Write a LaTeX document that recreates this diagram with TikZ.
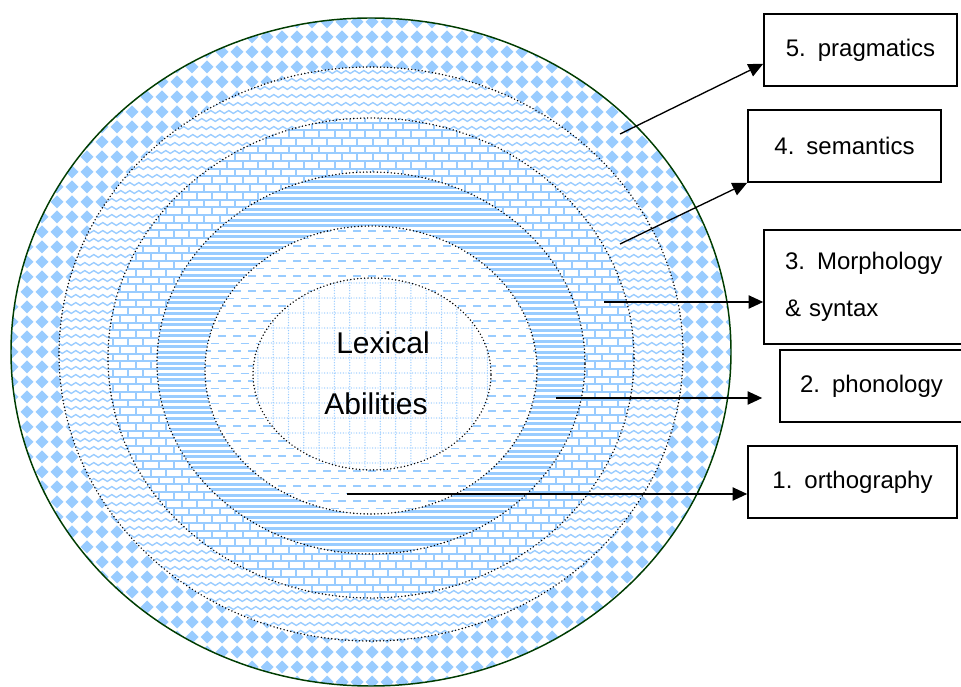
\documentclass[tikz,border=0pt]{standalone}
\usepackage{fontspec}
\setmainfont{Liberation Sans}
\usetikzlibrary{positioning, arrows.meta, calc, decorations.pathmorphing}
\definecolor{patblue}{RGB}{153,204,255}
\definecolor{rimgreen}{RGB}{0,60,0}
\tikzset{
    layer/.style={draw, fill=white, line width=1.2pt, minimum height=54pt, font=\fontsize{18}{22}\selectfont},
    ring/.style={line width=1.2pt, dash pattern=on 0pt off 2.6pt, line cap=round},
    pointer/.style={line width=1pt, -{Triangle[length=11pt, width=10pt]}},
    wave/.style={patblue, line width=1pt, decorate, decoration={snake, amplitude=1.1pt, segment length=6.75pt}},
    mortar/.style={patblue, line width=1.5pt},
    griddots/.style={patblue, line width=1.1pt, dash pattern=on 0pt off 2pt, line cap=round},
}

\begin{document}
\begin{tikzpicture}[x=0.75pt, y=0.75pt]
    \useasboundingbox (0,0) rectangle (961,686);

    % outer ring: diamonds
    \begin{scope}
        \clip (371,334) ellipse [x radius=360, y radius=334];
        \foreach \i in {0,...,48}
            \foreach \j in {0,...,45}
                \fill[patblue] (12+15*\i,4+15*\j) +(-6.5,0) -- +(0,6.5) -- +(6.5,0) -- +(0,-6.5) -- cycle;
    \end{scope}

    % waves
    \begin{scope}
        \fill[white] (371,332) ellipse [x radius=312, y radius=287];
        \clip (371,332) ellipse [x radius=312, y radius=287];
        \foreach \y in {46,54,...,622}
            \draw[wave] (55,\y) -- (690,\y);
    \end{scope}

    % bricks
    \begin{scope}
        \fill[white] (371,328) ellipse [x radius=263, y radius=240];
        \clip (371,328) ellipse [x radius=263, y radius=240];
        \foreach \y in {86,93.7,...,572}
            \draw[mortar] (105,\y) -- (640,\y);
        \foreach \x in {105,120.3,...,640} {
            \draw[mortar, dash pattern=on 5.775pt off 5.775pt] (\x,86) -- (\x,572);
            \draw[mortar, dash pattern=on 5.775pt off 5.775pt, dash phase=5.775pt] (\x+7.65,86) -- (\x+7.65,572);
        }
    \end{scope}

    % stripes
    \begin{scope}
        \fill[white] (371,323) ellipse [x radius=214, y radius=191];
        \clip (371,323) ellipse [x radius=214, y radius=191];
        \foreach \y in {130,135.5,...,517}
            \draw[patblue, line width=2.25pt] (155,\y) -- (588,\y);
    \end{scope}

    % dashes
    \begin{scope}
        \fill[white] (371,316) ellipse [x radius=166, y radius=144];
        \clip (371,316) ellipse [x radius=166, y radius=144];
        \foreach \y in {170,185,...,462} {
            \draw[patblue, line width=1.3pt, dash pattern=on 6pt off 5.25pt] (203,\y) -- (540,\y);
            \draw[patblue, line width=1.3pt, dash pattern=on 6pt off 5.25pt, dash phase=5.625pt] (203,\y+7.5) -- (540,\y+7.5);
        }
    \end{scope}

    % core: dotted grid
    \begin{scope}
        \fill[white] (372,312) ellipse [x radius=119, y radius=96];
        \clip (372,312) ellipse [x radius=119, y radius=96];
        \foreach \x in {257.9,273.2,...,495}
            \draw[griddots] (\x,214) -- (\x,410);
        \foreach \y in {208,223,...,412}
            \draw[griddots] (250,\y) -- (495,\y);
    \end{scope}

    % ring borders
    \draw[ring] (371,332) ellipse [x radius=312, y radius=287];
    \draw[ring] (371,328) ellipse [x radius=263, y radius=240];
    \draw[ring] (371,323) ellipse [x radius=214, y radius=191];
    \draw[ring] (371,316) ellipse [x radius=166, y radius=144];
    \draw[ring] (372,312) ellipse [x radius=119, y radius=96];
    \draw[rimgreen, line width=1.1pt] (371,334) ellipse [x radius=360, y radius=334];

    \node[font=\fontsize{22.5}{27}\selectfont] (lex) at (383,343) {Lexical};
    \node[font=\fontsize{22.5}{27}\selectfont] (abil) at (376,282) {Abilities};

    \node[layer, minimum width=144.75pt] (b5) at (860.5,636) {5.\enspace pragmatics};
    \node[layer, minimum width=144.75pt] (b4) at (844.5,540) {4.\enspace semantics};
    \node[layer, minimum width=158.25pt, minimum height=85.5pt, text width=126.75pt, align=left,
          font=\fontsize{18}{35.25}\selectfont] (b3) at (869.5,399) {3.\enspace Morphology\\\& syntax};
    \node[layer, minimum width=137.25pt] (b2) at (871.5,300) {2.\enspace phonology};
    \node[layer, minimum width=156.75pt] (b1) at (852.5,204) {1.\enspace orthography};

    \coordinate (s5) at (620,552);
    \coordinate (s4) at (620,442);
    \coordinate (s3) at (604,384);
    \coordinate (s2) at (556,288);
    \coordinate (s1) at (347,192);

    \draw
        (s5) edge[pointer] ($(b5.south west)+(0,23)$)
        (s4) edge[pointer] (b4.south west)
        (s3) edge[pointer] (s3 -| b3.west)
        (s2) edge[pointer, shorten >=12.75pt] (s2 -| b2.west)
        (s1) edge[pointer] (s1 -| b1.west)
        ;
\end{tikzpicture}
\end{document}
